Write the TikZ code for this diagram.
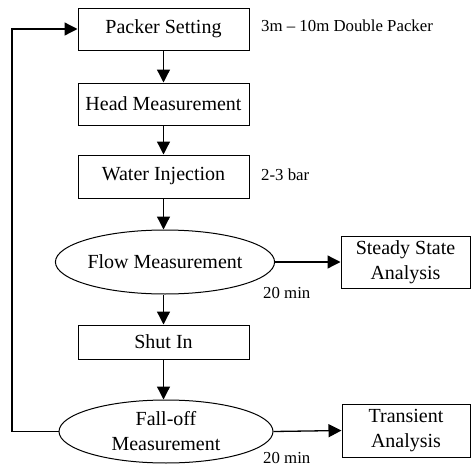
\documentclass[tikz,border=0pt]{standalone}
\usepackage{fontspec}
\setmainfont{Liberation Serif}
\usetikzlibrary{arrows.meta,shapes.geometric}
\begin{document}
\begin{tikzpicture}[x=1pt,y=-1pt,
  box/.style={draw,line width=1pt,rectangle,inner sep=0pt,minimum width=171pt,font=\fontsize{20}{25}\selectfont,align=center},
  oval/.style={draw,line width=1pt,ellipse,inner sep=0pt,minimum width=214pt,minimum height=64pt,font=\fontsize{20}{25}\selectfont,align=center},
  side/.style={draw,line width=1pt,rectangle,inner sep=0pt,minimum width=129pt,minimum height=52pt,font=\fontsize{20}{25}\selectfont,align=center},
  note/.style={anchor=west,inner sep=0pt,font=\fontsize{16.8}{18}\selectfont},
  arr/.style={line width=1.3pt,-{Triangle[length=13pt,width=13pt]}}]
\useasboundingbox (0,0) rectangle (472,466);
\node[box,minimum height=42pt] (ps) at (163.5,29) {Packer Setting};
\node[box,minimum height=42pt] (hm) at (163.5,104) {Head Measurement};
\node[box,minimum height=43pt] (wi) at (163.5,176.5) {Water Injection};
\node[oval] (fm) at (165,262) {Flow Measurement};
\node[side] (ssa) at (405.5,262) {Steady State\\Analysis};
\node[box,minimum height=34pt] (si) at (163.5,342) {Shut In};
\node[oval,minimum height=63pt] (fo) at (166,431.5) {Fall-off\\Measurement};
\node[side,minimum height=53pt,minimum width=128pt] (ta) at (406,430.5) {Transient\\Analysis};
\node[note] (l1) at (261,26) {3m -- 10m Double Packer};
\node[note] (l2) at (261,175) {2-3 bar};
\node[note] (l3) at (263,293) {20 min};
\node[note] (l4) at (263,458) {20 min};
\coordinate (lp) at (12,431.5);
\draw[arr] (ps) -- (hm);
\draw[arr] (hm) -- (wi);
\draw[arr] (wi.south) -- (wi.south |- fm.north);
\draw[arr] (fm.south -| si.north) -- (si.north);
\draw[arr] (si.south) -- (si.south |- fo.north);
\draw[arr] (fm.east) -- (ssa.west);
\draw[arr] (fo.east) -- (ta.west);
\draw[arr] (fo.west) -- (lp) |- (ps.west);
\end{tikzpicture}
\end{document}
